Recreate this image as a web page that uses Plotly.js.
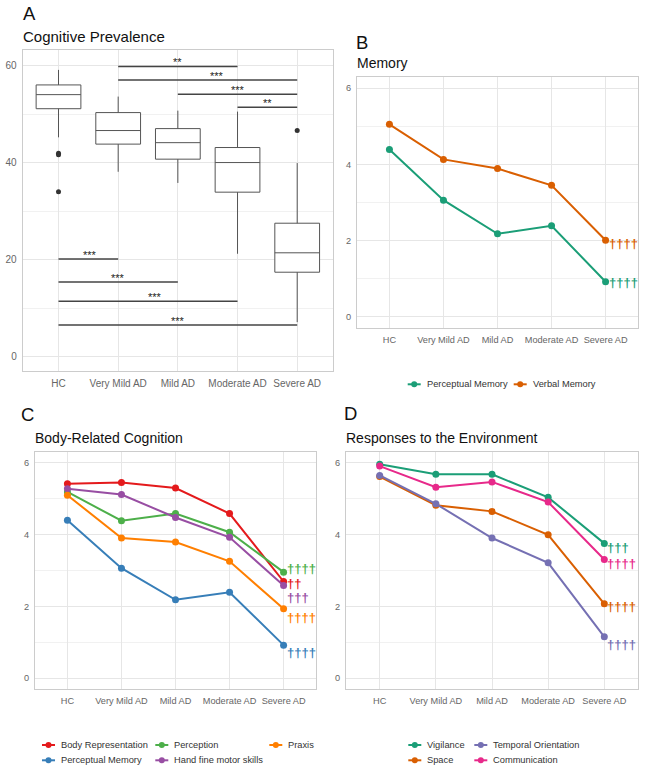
<!DOCTYPE html>
<html>
<head>
<meta charset="utf-8">
<script src="https://cdn.plot.ly/plotly-3.0.1.min.js"></script>
<style>
  html, body { margin: 0; padding: 0; background: #ffffff; }
  #chart { width: 645px; height: 773px; }
</style>
</head>
<body>
<div id="chart"></div>
<script>
// ---- data ----
const categories = ['HC', 'Very Mild AD', 'Mild AD', 'Moderate AD', 'Severe AD'];

// A: Cognitive Prevalence box summaries per group
const boxUpper  = [59.1, 53.6, 50.7, 50.5, 39.9];
const boxQ3     = [56.0, 50.3, 47.0, 43.1, 27.5];
const boxMedian = [54.0, 46.6, 44.1, 40.0, 21.4];
const boxQ1     = [51.1, 43.8, 40.7, 33.9, 17.4];
const boxLower  = [45.2, 38.1, 35.8, 21.2, 7.1];
const outlierGroup = [0, 0, 0, 4];
const outlierValue = [41.9, 41.6, 34.0, 46.6];

// A: pairwise significance brackets
const sigFrom   = [1, 1, 2, 3, 0, 0, 0, 0];
const sigTo     = [3, 4, 4, 4, 1, 2, 3, 4];
const sigLevel  = [59.8, 57.0, 54.1, 51.4, 20.1, 15.4, 11.4, 6.5];
const sigStars  = ['**', '***', '***', '**', '***', '***', '***', '***'];
const sigStarAt = [2.0, 2.65, 3.0, 3.5, 0.53, 1.0, 1.62, 2.0];

// B: Memory
const perceptualMemory = [4.39, 3.06, 2.18, 2.39, 0.92];
const verbalMemory     = [5.05, 4.13, 3.89, 3.45, 2.01];

// C: Body-Related Cognition
const bodyRepresentation = [5.41, 5.44, 5.29, 4.58, 2.69];
const perception         = [5.18, 4.38, 4.58, 4.06, 2.95];
const handFineMotor      = [5.27, 5.11, 4.47, 3.92, 2.58];
const praxis             = [5.09, 3.90, 3.79, 3.25, 1.93];

// D: Responses to the Environment
const vigilance           = [5.95, 5.67, 5.67, 5.03, 3.75];
const space               = [5.61, 4.81, 4.64, 3.99, 2.07];
const temporalOrientation = [5.64, 4.85, 3.90, 3.21, 1.15];
const communication       = [5.90, 5.31, 5.46, 4.90, 3.30];

// significance marks at the Severe AD group
const daggersMemory = { 'Perceptual Memory': '††††', 'Verbal Memory': '††††' };
const daggersBody = { 'Body Representation': '††', 'Perceptual Memory': '††††', 'Perception': '††††',
                      'Hand fine motor skills': '†††', 'Praxis': '††††' };
const daggersEnv = { 'Vigilance': '†††', 'Space': '††††', 'Temporal Orientation': '††††', 'Communication': '††††' };

// ---- styling ----
const FONT = 'Liberation Sans, Arial, Helvetica, sans-serif';
const W = 645, H = 773;
const idx = categories.map((_, i) => i);
const dark2 = { teal: '#1B9E77', orange: '#D95F02', purple: '#7570B3', pink: '#E7298A' };
const set1 = { red: '#E41A1C', blue: '#377EB8', green: '#4DAF4A', purple: '#984EA3', orange: '#FF7F00' };

// vertical nudge (px, downward) of each dagger label
const daggerDrop = {
  x2: { 'Perceptual Memory': 1, 'Verbal Memory': 3.5 },
  x3: { 'Body Representation': 1.5, 'Perceptual Memory': 7, 'Perception': -4, 'Hand fine motor skills': 12, 'Praxis': 9 },
  x4: { 'Vigilance': 4, 'Space': 2.7, 'Temporal Orientation': 7.7, 'Communication': 4 }
};
// legend key placement: [text left edge px, row centre px]
const keySlots = {
  x2: { 'Perceptual Memory': [426.7, 384.3], 'Verbal Memory': [532.7, 384.3] },
  x3: { 'Body Representation': [61, 745], 'Perception': [174.3, 745], 'Praxis': [288.3, 745],
        'Perceptual Memory': [61, 760.3], 'Hand fine motor skills': [174.3, 760.3] },
  x4: { 'Vigilance': [427.3, 745], 'Temporal Orientation': [493.3, 745],
        'Space': [427.3, 760.3], 'Communication': [493.3, 760.3] }
};

const traces = [];
const annotations = [];
const shapes = [];

// ---- panel A ----
traces.push({
  type: 'box', xaxis: 'x', yaxis: 'y', x: idx,
  q1: boxQ1, median: boxMedian, q3: boxQ3, lowerfence: boxLower, upperfence: boxUpper,
  width: 0.75, whiskerwidth: 0, fillcolor: '#ffffff',
  line: { color: '#555555', width: 1 }, boxpoints: false, showlegend: false, hoverinfo: 'skip'
});
traces.push({
  type: 'scatter', mode: 'markers', xaxis: 'x', yaxis: 'y',
  x: outlierGroup, y: outlierValue, marker: { color: '#333333', size: 5 },
  showlegend: false, hoverinfo: 'skip'
});
sigFrom.forEach((a, i) => {
  traces.push({
    type: 'scatter', mode: 'lines', xaxis: 'x', yaxis: 'y',
    x: [a, sigTo[i]], y: [sigLevel[i], sigLevel[i]],
    line: { color: '#444444', width: 1.5 }, showlegend: false, hoverinfo: 'skip'
  });
  annotations.push({
    xref: 'x', yref: 'y', x: sigStarAt[i], y: sigLevel[i], text: sigStars[i],
    showarrow: false, xanchor: 'center', yanchor: 'bottom', yshift: -4,
    font: { family: FONT, size: 11, color: '#222222' }
  });
});

// ---- legend keys (short line, dot, label) ----
function legendKey(name, color, textX, rowY) {
  const yp = 1 - rowY / H;
  shapes.push({
    type: 'line', xref: 'paper', yref: 'paper',
    x0: (textX - 19) / W, x1: (textX - 6) / W, y0: yp, y1: yp,
    line: { color: color, width: 2 }
  });
  shapes.push({
    type: 'circle', xref: 'paper', yref: 'paper', xsizemode: 'pixel', ysizemode: 'pixel',
    xanchor: (textX - 12.5) / W, yanchor: yp, x0: -3, x1: 3, y0: -3, y1: 3,
    fillcolor: color, line: { width: 0 }
  });
  annotations.push({
    xref: 'paper', yref: 'paper', x: textX / W, y: yp, xshift: -2,
    text: name, showarrow: false, xanchor: 'left', yanchor: 'middle',
    font: { family: FONT, size: 9.3, color: '#333333' }
  });
}

// ---- line panels ----
function addSeries(name, values, color, ax, daggers) {
  const ay = ax.replace('x', 'y');
  traces.push({
    type: 'scatter', mode: 'lines+markers', name: name,
    xaxis: ax, yaxis: ay, x: idx, y: values,
    line: { color: color, width: 2 }, marker: { color: color, size: 7 },
    showlegend: false, hoverinfo: 'skip'
  });
  const last = values.length - 1;
  annotations.push({
    xref: ax, yref: ay, x: last, y: values[last],
    text: daggers[name], showarrow: false, xanchor: 'left', yanchor: 'middle',
    xshift: 3, yshift: -daggerDrop[ax][name], borderpad: 0, borderwidth: 0,
    font: { family: FONT, size: 13, color: color, weight: 'bold' }
  });
  const slot = keySlots[ax][name];
  legendKey(name, color, slot[0], slot[1]);
}

// B
addSeries('Perceptual Memory', perceptualMemory, dark2.teal, 'x2', daggersMemory);
addSeries('Verbal Memory', verbalMemory, dark2.orange, 'x2', daggersMemory);

// C
addSeries('Body Representation', bodyRepresentation, set1.red, 'x3', daggersBody);
addSeries('Perceptual Memory', perceptualMemory, set1.blue, 'x3', daggersBody);
addSeries('Perception', perception, set1.green, 'x3', daggersBody);
addSeries('Hand fine motor skills', handFineMotor, set1.purple, 'x3', daggersBody);
addSeries('Praxis', praxis, set1.orange, 'x3', daggersBody);

// D
addSeries('Vigilance', vigilance, dark2.teal, 'x4', daggersEnv);
addSeries('Space', space, dark2.orange, 'x4', daggersEnv);
addSeries('Temporal Orientation', temporalOrientation, dark2.purple, 'x4', daggersEnv);
addSeries('Communication', communication, dark2.pink, 'x4', daggersEnv);

// ---- panel tags and titles ----
function label(text, xPx, yPx, size) {
  annotations.push({
    xref: 'paper', yref: 'paper', x: xPx / W, y: 1 - yPx / H, text: text,
    showarrow: false, xanchor: 'left', yanchor: 'middle',
    font: { family: FONT, size: size, color: '#111111' }
  });
}
label('A', 21, 13.5, 18.5);
label('Cognitive Prevalence', 21, 36.5, 15);
label('B', 354, 42.2, 18.5);
label('Memory', 355, 63, 14);
label('C', 19, 414, 18.5);
label('Body-Related Cognition', 33, 438.3, 14);
label('D', 341.5, 413, 18.5);
label('Responses to the Environment', 344, 438, 14);

// ---- axes ----
function xAxis(domain, anchor, size) {
  return {
    domain: domain, anchor: anchor, range: [-0.6, 4.6],
    tickmode: 'array', tickvals: idx, ticktext: categories,
    showgrid: true, gridcolor: '#e6e6e6', gridwidth: 1, zeroline: false,
    showline: true, mirror: true, linecolor: '#cccccc', linewidth: 1, ticks: '',
    ticklabelstandoff: 3,
    tickfont: { family: FONT, size: size, color: '#666666' }, fixedrange: true
  };
}
function yAxis(domain, anchor, range, major, minor, size) {
  return {
    domain: domain, anchor: anchor, range: range,
    tickmode: 'array', tickvals: major,
    minor: { tickmode: 'array', tickvals: minor, showgrid: true, gridcolor: '#f1f1f1', gridwidth: 1, ticks: '' },
    showgrid: true, gridcolor: '#e6e6e6', gridwidth: 1, zeroline: false,
    showline: true, mirror: true, linecolor: '#cccccc', linewidth: 1, ticks: '',
    ticklabelstandoff: 3,
    tickfont: { family: FONT, size: size, color: '#666666' }, fixedrange: true
  };
}
const dx = (a, b) => [a / W, b / W];
const dy = (top, bottom) => [1 - bottom / H, 1 - top / H];

const layout = {
  width: W, height: H, margin: { l: 0, r: 0, t: 0, b: 0 },
  paper_bgcolor: '#ffffff', plot_bgcolor: '#ffffff',
  showlegend: false,
  xaxis: xAxis(dx(22.7, 333), 'y', 10),
  yaxis: yAxis(dy(50, 370.7), 'x', [-2.9, 63.2], [0, 20, 40, 60], [10, 30, 50], 10),
  xaxis2: xAxis(dx(357, 638), 'y2', 9.2),
  yaxis2: yAxis(dy(76.7, 328.3), 'x2', [-0.3, 6.3], [0, 2, 4, 6], [1, 3, 5], 9.2),
  xaxis3: xAxis(dx(35, 316), 'y3', 9.2),
  yaxis3: yAxis(dy(451.7, 689), 'x3', [-0.3, 6.3], [0, 2, 4, 6], [1, 3, 5], 9.2),
  xaxis4: xAxis(dx(346, 638), 'y4', 9.2),
  yaxis4: yAxis(dy(451.7, 689), 'x4', [-0.3, 6.3], [0, 2, 4, 6], [1, 3, 5], 9.2),
  annotations: annotations,
  shapes: shapes
};

Plotly.newPlot('chart', traces, layout, { displayModeBar: false, staticPlot: true });
</script>
</body>
</html>
